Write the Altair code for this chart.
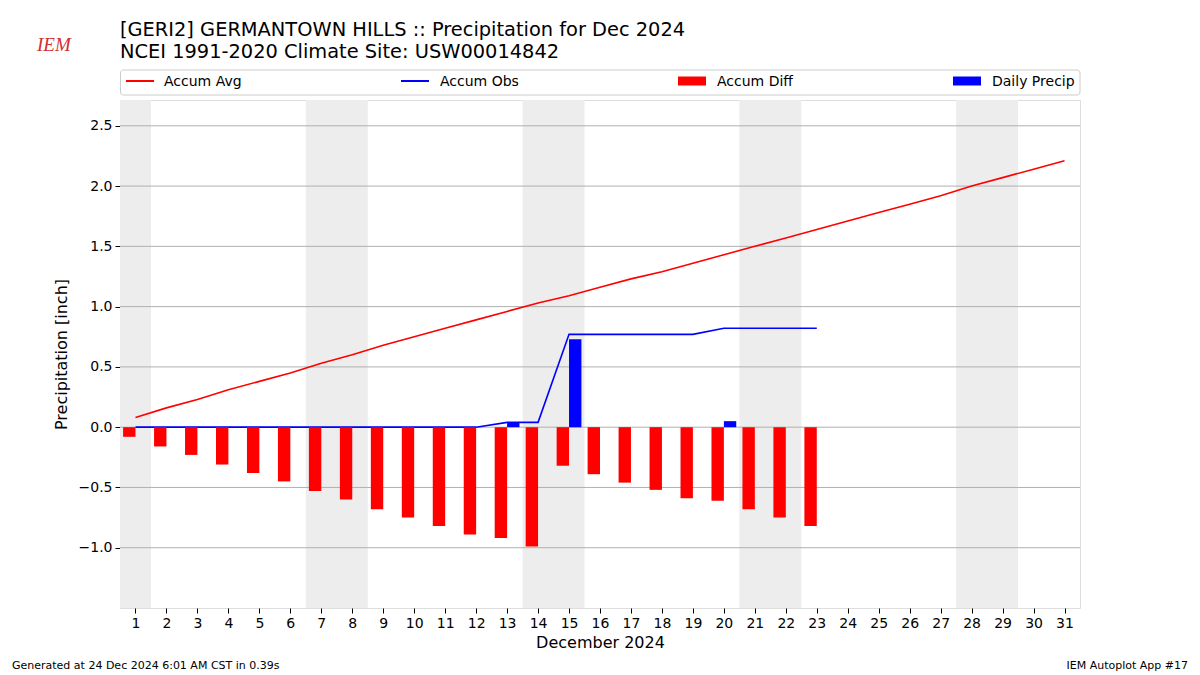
import altair as alt
import pandas as pd

FONT = "DejaVu Sans"

days = list(range(1, 32))
accum_avg = [0.08, 0.16, 0.23, 0.31, 0.38, 0.45, 0.53, 0.60, 0.68, 0.75, 0.82,
             0.89, 0.96, 1.03, 1.09, 1.16, 1.23, 1.29, 1.36, 1.43, 1.50, 1.57,
             1.64, 1.71, 1.78, 1.85, 1.92, 2.00, 2.07, 2.14, 2.21]
obs_days = list(range(1, 24))
accum_obs = [0, 0, 0, 0, 0, 0, 0, 0, 0, 0, 0, 0, 0.04, 0.04, 0.77, 0.77, 0.77,
             0.77, 0.77, 0.82, 0.82, 0.82, 0.82]
accum_diff = [-0.08, -0.16, -0.23, -0.31, -0.38, -0.45, -0.53, -0.60, -0.68,
              -0.75, -0.82, -0.89, -0.92, -0.99, -0.32, -0.39, -0.46, -0.52,
              -0.59, -0.61, -0.68, -0.75, -0.82]
daily_precip = [0, 0, 0, 0, 0, 0, 0, 0, 0, 0, 0, 0, 0.04, 0, 0.73, 0, 0, 0, 0,
                0.05, 0, 0, 0]
weekend_start = [1, 7, 14, 21, 28]
weekend_end = [1, 8, 15, 22, 29]
y_ticks = [-1.0, -0.5, 0.0, 0.5, 1.0, 1.5, 2.0, 2.5]

avg_df = pd.DataFrame({"day": days, "val": accum_avg})
obs_df = pd.DataFrame({"day": obs_days, "val": accum_obs})
diff_df = pd.DataFrame({"day": obs_days, "val": accum_diff})
diff_df["x0"] = diff_df["day"] - 0.4
diff_df["zero"] = 0.0
prec_df = pd.DataFrame({"day": obs_days, "val": daily_precip})
prec_df = prec_df[prec_df["val"] > 0].copy()
prec_df["x1"] = prec_df["day"] + 0.4
prec_df["zero"] = 0.0
wk_df = pd.DataFrame({"s": weekend_start, "e": weekend_end})
wk_df["a"] = wk_df["s"] - 0.5
wk_df["b"] = wk_df["e"] + 0.5
grid_df = pd.DataFrame({"y": y_ticks})

xs = alt.Scale(domain=[0.5, 31.5], nice=False, zero=False)
ys = alt.Scale(domain=[-1.5, 2.714], nice=False, zero=False)

x_axis = alt.Axis(values=days, title="December 2024", grid=False, domain=False,
                  labelFontSize=14, titleFontSize=16, tickSize=5, labelPadding=3,
                  titlePadding=4, titleFontWeight="normal", labelColor="black",
                  titleColor="black", tickColor="black", labelFont=FONT, titleFont=FONT,
                  labelOverlap=False, labelFlush=False)
y_axis = alt.Axis(values=y_ticks, format=".1f", title="Precipitation [inch]",
                  grid=False, domain=False, labelFontSize=14, titleFontSize=16,
                  tickSize=5, labelPadding=3, titlePadding=9, titleFontWeight="normal",
                  labelColor="black", titleColor="black", tickColor="black",
                  labelFont=FONT, titleFont=FONT, labelOverlap=False, labelFlush=False)

weekend = alt.Chart(wk_df).mark_rect(color="#ededed", clip=True).encode(
    x=alt.X("a:Q", scale=xs, axis=x_axis),
    x2="b:Q",
    y=alt.value(0),
    y2=alt.value(508),
)
grid = alt.Chart(grid_df).mark_rule(color="#b0b0b0", strokeWidth=1).encode(
    y=alt.Y("y:Q", scale=ys, axis=y_axis)
)
avg_line = alt.Chart(avg_df).mark_line(color="#ff0000", strokeWidth=1.6, clip=True).encode(
    x=alt.X("day:Q", scale=xs, axis=x_axis), y=alt.Y("val:Q", scale=ys, axis=y_axis)
)
obs_line = alt.Chart(obs_df).mark_line(color="#0000ff", strokeWidth=1.6, clip=True).encode(
    x=alt.X("day:Q", scale=xs, axis=x_axis), y=alt.Y("val:Q", scale=ys, axis=y_axis)
)
diff_bars = alt.Chart(diff_df).mark_rect(color="#ff0000", clip=True).encode(
    x=alt.X("x0:Q", scale=xs, axis=x_axis), x2="day:Q",
    y=alt.Y("zero:Q", scale=ys, axis=y_axis), y2="val:Q",
)
prec_bars = alt.Chart(prec_df).mark_rect(color="#0000ff", clip=True).encode(
    x=alt.X("day:Q", scale=xs, axis=x_axis), x2="x1:Q",
    y=alt.Y("zero:Q", scale=ys, axis=y_axis), y2="val:Q",
)

one = pd.DataFrame({"k": [0]})


def txt(s, x, y, size, align="left", color="black", baseline="middle", style="normal", font=FONT):
    return alt.Chart(one).mark_text(
        text=s, align=align, baseline=baseline, fontSize=size, color=color,
        font=font, fontStyle=style,
    ).encode(x=alt.value(x), y=alt.value(y))


legend_box = alt.Chart(one).mark_rect(
    fill="white", stroke="#cccccc", strokeWidth=1, cornerRadius=3
).encode(x=alt.value(0.5), x2=alt.value(960), y=alt.value(-30), y2=alt.value(-5))


def leg_line(x, color):
    return alt.Chart(one).mark_rule(color=color, strokeWidth=2).encode(
        x=alt.value(x), x2=alt.value(x + 28), y=alt.value(-19))


def leg_rect(x, color):
    return alt.Chart(one).mark_rect(color=color).encode(
        x=alt.value(x), x2=alt.value(x + 28), y=alt.value(-23.5), y2=alt.value(-14.5))


layers = [
    weekend, grid, avg_line, obs_line, diff_bars, prec_bars,
    legend_box,
    leg_line(6, "#ff0000"), txt("Accum Avg", 44, -18.5, 14),
    leg_line(281, "#0000ff"), txt("Accum Obs", 320, -18.5, 14),
    leg_rect(558, "#ff0000"), txt("Accum Diff", 597, -18.5, 14),
    leg_rect(833, "#0000ff"), txt("Daily Precip", 872, -18.5, 14),
    txt("[GERI2] GERMANTOWN HILLS :: Precipitation for Dec 2024", 0, -64.5, 19.4, baseline="alphabetic"),
    txt("NCEI 1991-2020 Climate Site: USW00014842", 0, -42.5, 19.4, baseline="alphabetic"),
    txt("Generated at 24 Dec 2024 6:01 AM CST in 0.39s", -108, 569, 11, baseline="alphabetic"),
    txt("IEM Autoplot App #17", 1068, 569, 11, align="right", baseline="alphabetic"),
    txt("IEM", -83, -55, 19, color="#d03030", style="italic", font="Liberation Serif"),
]

chart = alt.layer(*layers).properties(
    width=960, height=508,
    autosize=alt.AutoSizeParams(type="none"),
    padding={"left": 112, "top": 92, "right": 112, "bottom": 66},
).configure_view(stroke="black", strokeWidth=1).configure(
    background="white"
).configure_axis(labelOverlap=False, labelFlush=False)

chart.save("out.html", embed_options={"renderer": "svg", "actions": False})
